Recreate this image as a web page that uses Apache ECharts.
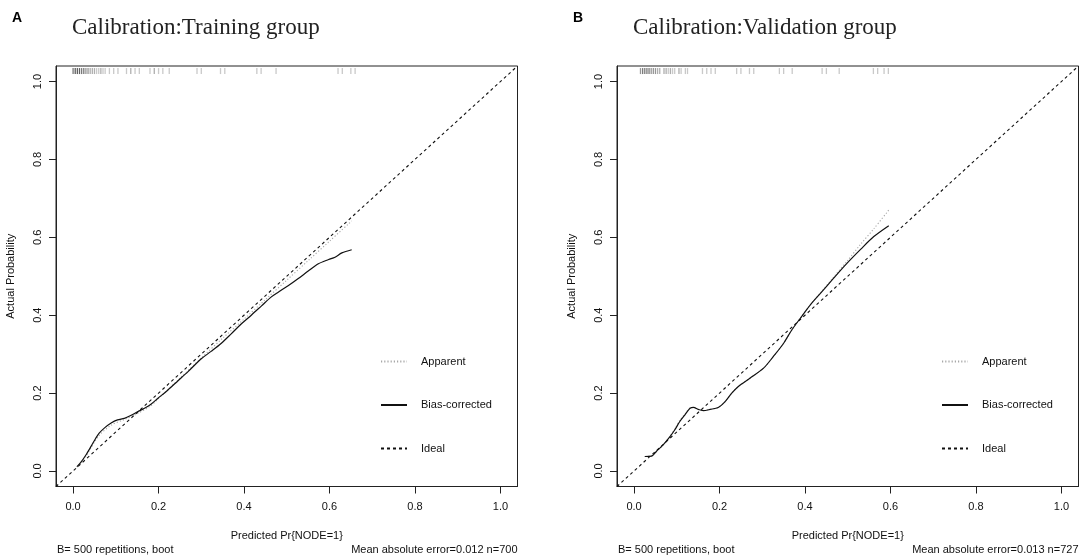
<!DOCTYPE html>
<html>
<head>
<meta charset="utf-8">
<script src="https://cdn.jsdelivr.net/npm/echarts@6/dist/echarts.min.js"></script>
<style>
html,body{margin:0;padding:0;background:#fff;}
#chart{width:1084px;height:560px;}
</style>
</head>
<body>
<div id="chart"></div>
<script>
// ---------- data ----------
const tickValues = [0, 0.2, 0.4, 0.6, 0.8, 1.0];
const idealX = [-0.04, 1.04];

// Training group
const trainBiasX = [0.009,0.018,0.030,0.042,0.053,0.061,0.073,0.089,0.104,0.120,0.136,0.151,0.167,0.183,0.198,0.222,0.245,0.269,0.300,0.323,0.347,0.370,0.394,0.417,0.441,0.464,0.480,0.504,0.527,0.551,0.574,0.598,0.613,0.629,0.652];
const trainBiasY = [0.011,0.022,0.041,0.063,0.084,0.097,0.110,0.123,0.131,0.135,0.143,0.152,0.161,0.172,0.186,0.208,0.231,0.255,0.288,0.307,0.328,0.352,0.378,0.400,0.424,0.447,0.459,0.476,0.494,0.514,0.532,0.543,0.549,0.560,0.568];
const trainAppX = [0.009,0.030,0.060,0.090,0.120,0.150,0.180,0.200,0.250,0.300,0.350,0.400,0.450,0.500,0.550,0.600,0.652];
const trainAppY = [0.010,0.038,0.090,0.118,0.132,0.147,0.166,0.186,0.238,0.290,0.341,0.390,0.440,0.490,0.540,0.590,0.642];
const trainRugX = [0.000,0.005,0.010,0.015,0.020,0.025,0.030,0.035,0.040,0.045,0.050,0.055,0.060,0.065,0.070,0.075,0.085,0.095,0.105,0.125,0.135,0.145,0.155,0.180,0.190,0.200,0.210,0.225,0.290,0.300,0.345,0.355,0.430,0.440,0.475,0.620,0.630,0.650,0.660];
const trainRugN = [4,5,5,5,4,4,3,3,2,2,2,1,1,2,1,1,1,1,1,1,2,1,1,1,2,1,1,1,1,1,1,1,1,1,1,1,1,1,1];

// Validation group
const validBiasX = [0.025,0.041,0.052,0.068,0.084,0.095,0.107,0.119,0.131,0.139,0.150,0.162,0.178,0.197,0.213,0.228,0.244,0.271,0.303,0.326,0.350,0.369,0.389,0.412,0.436,0.467,0.498,0.530,0.561,0.596];
const validBiasY = [0.037,0.038,0.050,0.067,0.088,0.105,0.127,0.144,0.161,0.163,0.158,0.155,0.158,0.163,0.178,0.199,0.217,0.238,0.264,0.294,0.328,0.362,0.392,0.426,0.456,0.495,0.533,0.569,0.602,0.630];
const validAppX = [0.025,0.041,0.052,0.068,0.084,0.095,0.107,0.119,0.131,0.139,0.150,0.162,0.178,0.197,0.213,0.228,0.244,0.271,0.303,0.326,0.350,0.369,0.389,0.412,0.436,0.467,0.498,0.530,0.561,0.596];
const validAppY = [0.037,0.039,0.050,0.067,0.089,0.107,0.130,0.146,0.162,0.163,0.158,0.155,0.158,0.163,0.178,0.199,0.217,0.238,0.264,0.294,0.328,0.362,0.392,0.426,0.457,0.498,0.538,0.582,0.622,0.670];
const validRugX = [0.015,0.020,0.025,0.030,0.035,0.040,0.045,0.050,0.055,0.060,0.070,0.075,0.080,0.085,0.090,0.095,0.105,0.110,0.120,0.125,0.160,0.170,0.180,0.190,0.240,0.250,0.270,0.280,0.340,0.350,0.370,0.440,0.450,0.480,0.560,0.570,0.585,0.595];
const validRugN = [3,4,4,4,4,3,3,3,2,2,2,2,1,2,1,1,2,1,1,1,1,1,1,1,1,1,1,1,1,1,1,1,1,1,1,1,1,1];

const panelTitles = ['Calibration:Training group', 'Calibration:Validation group'];
const panelLetters = ['A', 'B'];
const bottomLeftTexts = ['B= 500 repetitions, boot', 'B= 500 repetitions, boot'];
const bottomRightTexts = ['Mean absolute error=0.012 n=700', 'Mean absolute error=0.013 n=727'];
const seriesNames = ['Apparent', 'Bias-corrected', 'Ideal'];

// ---------- layout ----------
const FONT = '"Liberation Sans", Arial, sans-serif';
const SERIF = '"Liberation Serif", "Times New Roman", serif';
const panelLeft = [56, 617];
const gridW = 461.5, gridTop = 66, gridH = 420.5;

const zip = (xs, ys) => xs.map((x, i) => [x, ys[i]]);

const grids = panelLeft.map(l => ({
  left: l, top: gridTop, width: gridW, height: gridH,
  show: true, borderColor: '#222', borderWidth: 1, backgroundColor: 'transparent'
}));

const axisCommon = {
  type: 'value', min: -0.04, max: 1.04,
  axisLine: { show: true, onZero: false, lineStyle: { color: '#222', width: 1 } },
  axisTick: { show: true, length: 7, inside: false, customValues: tickValues, lineStyle: { color: '#222' } },
  splitLine: { show: false }
};

const xAxes = [0, 1].map(i => Object.assign({}, axisCommon, {
  gridIndex: i,
  axisLabel: { customValues: tickValues, formatter: v => v.toFixed(1), fontSize: 11, fontFamily: FONT, color: '#111', margin: 15 }
}));
const yAxes = [0, 1].map(i => Object.assign({}, axisCommon, {
  gridIndex: i,
  axisLabel: { customValues: tickValues, formatter: v => v.toFixed(1), fontSize: 11, fontFamily: FONT, color: '#111', margin: 13, rotate: 90 }
}));

const rugSeries = (xs, ns, i) => ({
  type: 'scatter', xAxisIndex: i, yAxisIndex: i, silent: true,
  symbol: 'rect', symbolSize: [1.3, 6],
  data: xs.map((x, k) => ({ value: [x, 1.027], itemStyle: { opacity: Math.min(1, 0.15 + 0.14 * ns[k]) } })),
  itemStyle: { color: '#444' }, z: 1
});

const makeSeries = (i, appX, appY, biasX, biasY, rugX, rugN) => [
  {
    name: 'Apparent', type: 'line', xAxisIndex: i, yAxisIndex: i, showSymbol: false, symbol: 'none',
    smooth: 0.3, data: zip(appX, appY),
    lineStyle: { color: '#a8a8a8', width: 1.1, type: [1.2, 2] }, itemStyle: { color: '#a8a8a8' }, z: 2
  },
  {
    name: 'Bias-corrected', type: 'line', xAxisIndex: i, yAxisIndex: i, showSymbol: false, symbol: 'none',
    smooth: 0.3, data: zip(biasX, biasY),
    lineStyle: { color: '#111', width: 1.2, type: 'solid' }, itemStyle: { color: '#111' }, z: 3
  },
  {
    name: 'Ideal', type: 'line', xAxisIndex: i, yAxisIndex: i, showSymbol: false, symbol: 'none',
    data: zip(idealX, idealX),
    lineStyle: { color: '#111', width: 1.1, type: [3, 3] }, itemStyle: { color: '#111' }, z: 2
  },
  rugSeries(rugX, rugN, i)
];

const legends = panelLeft.map(l => ({
  orient: 'vertical', left: l + 319, top: 349.5,
  itemWidth: 26, itemHeight: 14, itemGap: 29.5,
  data: seriesNames, selectedMode: false,
  itemStyle: { opacity: 0, color: 'transparent', borderWidth: 0 },
  textStyle: { fontSize: 11, fontFamily: FONT, color: '#111', padding: [0, 0, 0, 9], lineHeight: 14 }
}));

const graphics = [];
panelLeft.forEach((l, i) => {
  const cx = l + gridW / 2;
  graphics.push(
    { type: 'text', x: l - 44, y: 18, style: { text: panelLetters[i], font: 'bold 14px ' + FONT, fill: '#000', align: 'left', verticalAlign: 'middle' } },
    { type: 'text', x: l + 16, y: 28, style: { text: panelTitles[i], font: '23px ' + SERIF, fill: '#222', align: 'left', verticalAlign: 'middle' } },
    { type: 'text', x: l - 45, y: gridTop + gridH / 2, rotation: Math.PI / 2, style: { text: 'Actual Probability', font: '11px ' + FONT, fill: '#111', align: 'center', verticalAlign: 'middle' } },
    { type: 'text', x: cx, y: 536, style: { text: 'Predicted Pr{NODE=1}', font: '11px ' + FONT, fill: '#111', align: 'center', verticalAlign: 'middle' } },
    { type: 'text', x: l + 1, y: 550, style: { text: bottomLeftTexts[i], font: '11px ' + FONT, fill: '#111', align: 'left', verticalAlign: 'middle' } },
    { type: 'text', x: l + gridW, y: 550, style: { text: bottomRightTexts[i], font: '11px ' + FONT, fill: '#111', align: 'right', verticalAlign: 'middle' } }
  );
});

const chart = echarts.init(document.getElementById('chart'), null, { renderer: 'canvas' });
chart.setOption({
  backgroundColor: '#fff',
  animation: false,
  grid: grids,
  xAxis: xAxes,
  yAxis: yAxes,
  legend: legends,
  graphic: graphics,
  series: [
    ...makeSeries(0, trainAppX, trainAppY, trainBiasX, trainBiasY, trainRugX, trainRugN),
    ...makeSeries(1, validAppX, validAppY, validBiasX, validBiasY, validRugX, validRugN)
  ]
});
</script>
</body>
</html>
